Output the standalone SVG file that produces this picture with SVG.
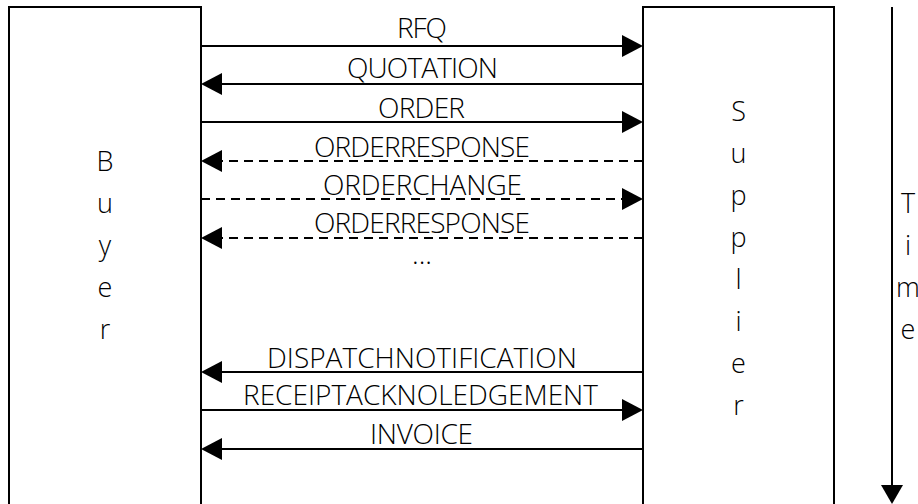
<svg xmlns="http://www.w3.org/2000/svg" width="918" height="504" viewBox="0 0 918 504">
<style>
  .box { fill: #fff; stroke: #000; stroke-width: 2; }
  .lbl { font-family: "Open Sans", "Noto Sans", "DejaVu Sans", sans-serif; font-size: 28px; font-weight: 300; fill: #000; text-anchor: middle; }
  .ch { font-family: "Open Sans", "Noto Sans", "DejaVu Sans", sans-serif; font-size: 27px; font-weight: 300; fill: #000; text-anchor: middle; }
  .ln { stroke: #000; stroke-width: 2; fill: none; }
  .dash { stroke-dasharray: 9 6; }
  .hd { fill: #000; }
</style>
<rect width="918" height="504" fill="#fff"/>
<g id="buyer">
  <rect class="box" x="9" y="7" width="192" height="520"/>
  <text class="ch" x="105" y="171">B</text>
  <text class="ch" x="105" y="213">u</text>
  <text class="ch" x="105" y="255">y</text>
  <text class="ch" x="105" y="297">e</text>
  <text class="ch" x="105" y="339">r</text>
</g>
<g id="supplier">
  <rect class="box" x="643" y="7" width="191" height="520"/>
  <text class="ch" x="738.5" y="121">S</text>
  <text class="ch" x="738.5" y="163">u</text>
  <text class="ch" x="738.5" y="205">p</text>
  <text class="ch" x="738.5" y="247">p</text>
  <text class="ch" x="738.5" y="289">l</text>
  <text class="ch" x="738.5" y="331">i</text>
  <text class="ch" x="738.5" y="373">e</text>
  <text class="ch" x="738.5" y="415">r</text>
</g>
<g id="time">
  <line class="ln" x1="892" y1="7" x2="892" y2="487"/>
  <polygon class="hd" points="881,485 903,485 892,504"/>
  <text class="ch" x="908" y="213">T</text>
  <text class="ch" x="908" y="255">i</text>
  <text class="ch" x="908" y="297">m</text>
  <text class="ch" x="908" y="339">e</text>
</g>
<g id="connectors">
  <line class="ln" x1="201" y1="46" x2="624" y2="46"/>
  <polygon class="hd" points="622,35 643,46 622,57"/>
  <text class="lbl" x="422" y="38" textLength="50">RFQ</text>

  <line class="ln" x1="220" y1="84" x2="643" y2="84"/>
  <polygon class="hd" points="222,73 201,84 222,95"/>
  <text class="lbl" x="422.5" y="78" textLength="151">QUOTATION</text>

  <line class="ln" x1="201" y1="122" x2="624" y2="122"/>
  <polygon class="hd" points="622,111 643,122 622,133"/>
  <text class="lbl" x="421.5" y="118" textLength="87">ORDER</text>

  <line class="ln dash" x1="643" y1="161" x2="220" y2="161"/>
  <polygon class="hd" points="222,150 201,161 222,172"/>
  <text class="lbl" x="422" y="157" textLength="216">ORDERRESPONSE</text>

  <line class="ln dash" x1="201" y1="199" x2="624" y2="199"/>
  <polygon class="hd" points="622,188 643,199 622,210"/>
  <text class="lbl" x="422.5" y="195" textLength="199">ORDERCHANGE</text>

  <line class="ln dash" x1="643" y1="238" x2="220" y2="238"/>
  <polygon class="hd" points="222,227 201,238 222,249"/>
  <text class="lbl" x="422" y="233" textLength="216">ORDERRESPONSE</text>
  <text class="lbl" x="422" y="264">...</text>

  <line class="ln" x1="220" y1="372" x2="643" y2="372"/>
  <polygon class="hd" points="222,361 201,372 222,383"/>
  <text class="lbl" x="422" y="368" textLength="310">DISPATCHNOTIFICATION</text>

  <line class="ln" x1="201" y1="410" x2="624" y2="410"/>
  <polygon class="hd" points="622,399 643,410 622,421"/>
  <text class="lbl" x="420.5" y="405" textLength="355">RECEIPTACKNOLEDGEMENT</text>

  <line class="ln" x1="220" y1="449" x2="643" y2="449"/>
  <polygon class="hd" points="222,438 201,449 222,460"/>
  <text class="lbl" x="421.5" y="444" textLength="103">INVOICE</text>
</g>
</svg>
